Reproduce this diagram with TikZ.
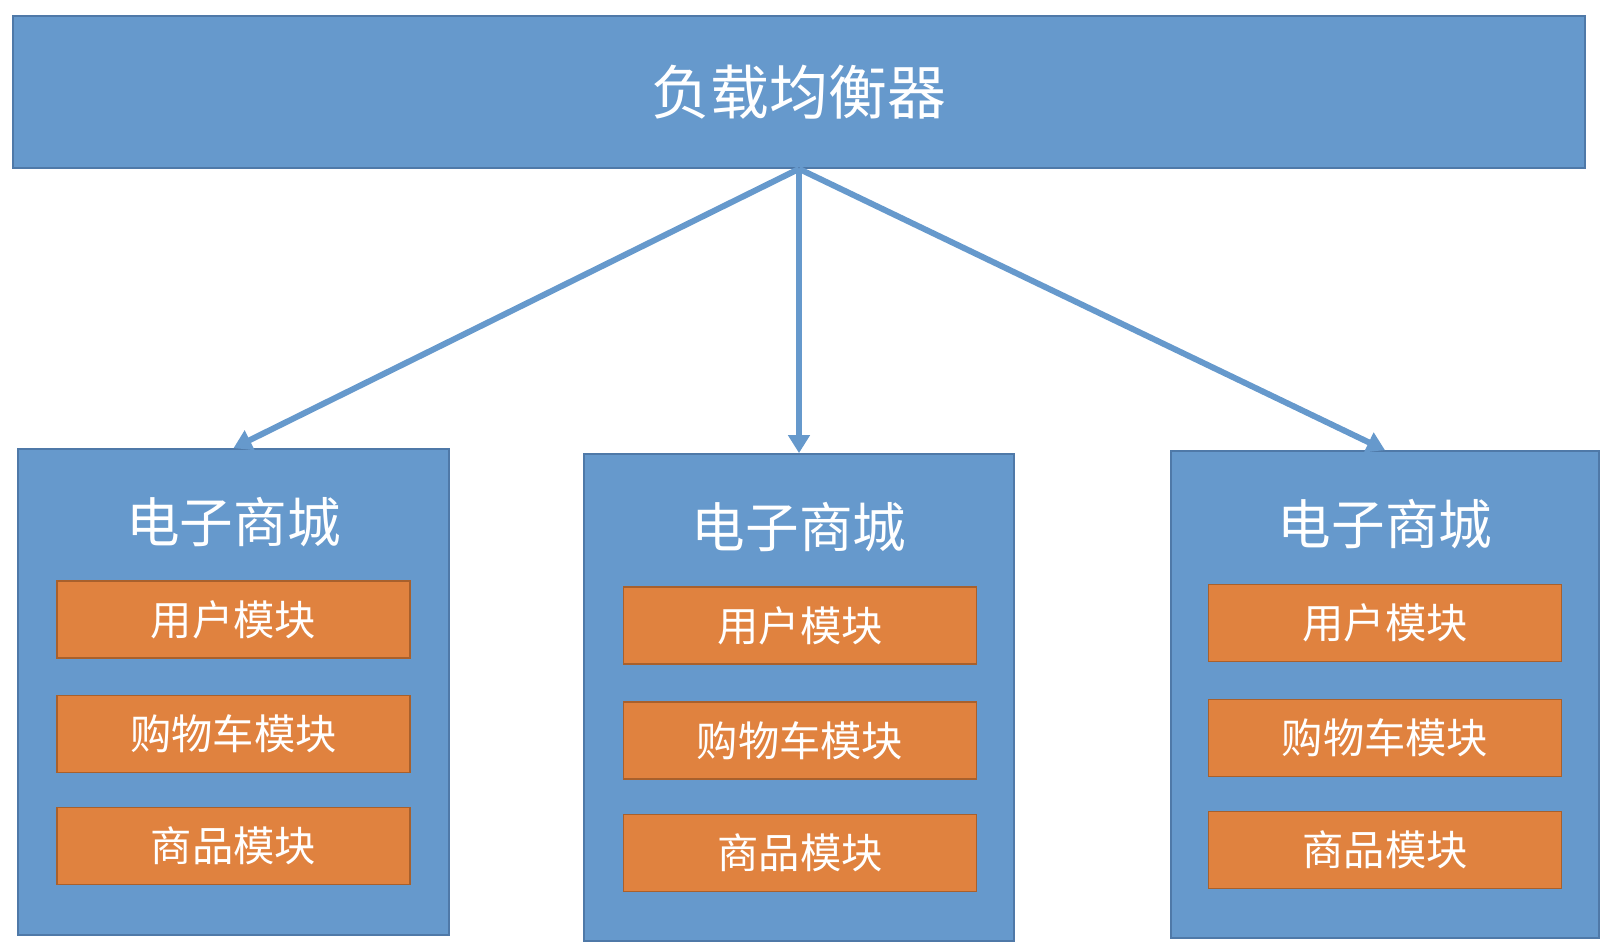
\documentclass[tikz,border=0pt]{standalone}
\usepackage{fontspec}
\newfontfamily\cjk{Noto Sans CJK SC}
\usetikzlibrary{arrows.meta}
\definecolor{boxblue}{HTML}{6699CC}
\definecolor{boxedge}{HTML}{4F79A8}
\definecolor{modorange}{HTML}{E0823F}
\definecolor{modedge}{HTML}{A8602C}
\begin{document}
\begin{tikzpicture}[
    blk/.style = {draw=boxedge, line width=1pt, fill=boxblue, inner sep=0pt},
    mod/.style = {draw=modedge, line width=1pt, fill=modorange, inner sep=0pt,
                  minimum width=7.06cm, minimum height=1.54cm,
                  text=white, font=\cjk\fontsize{23.5}{26}\selectfont},
    ttl/.style = {text=white, font=\cjk\fontsize{30.5}{34}\selectfont},
    arr/.style = {draw=boxblue, line width=3.4pt,
                  -{Triangle[length=0.36cm, width=0.42cm]}}
                    ]
\useasboundingbox (0,0) rectangle (32.08,-18.88);

\node[blk, minimum width=31.44cm, minimum height=3.04cm, text=white,
      font=\cjk\fontsize{33.5}{38}\selectfont] (lb) at (15.98,-1.84) {负载均衡器};

\node[blk, minimum width=8.62cm, minimum height=9.72cm] (s1) at (4.67,-13.84) {};
\node[blk, minimum width=8.60cm, minimum height=9.74cm] (s2) at (15.98,-13.95) {};
\node[blk, minimum width=8.56cm, minimum height=9.74cm] (s3) at (27.70,-13.89) {};

\node[ttl] (t1) at (4.67,-10.44) {电子商城};
\node[ttl] (t2) at (15.98,-10.54) {电子商城};
\node[ttl] (t3) at (27.70,-10.48) {电子商城};

\node[mod] (u1) at (4.67,-12.39) {用户模块};
\node[mod] (c1) at (4.67,-14.68) {购物车模块};
\node[mod] (g1) at (4.67,-16.92) {商品模块};

\node[mod] (u2) at (16.00,-12.51) {用户模块};
\node[mod] (c2) at (16.00,-14.81) {购物车模块};
\node[mod] (g2) at (16.00,-17.06) {商品模块};

\node[mod] (u3) at (27.70,-12.46) {用户模块};
\node[mod] (c3) at (27.70,-14.76) {购物车模块};
\node[mod] (g3) at (27.70,-17.00) {商品模块};

\path[arr] (lb.south) -- (s1.north);
\path[arr] (lb.south) -- (s2.north);
\path[arr] (lb.south) -- (s3.north);

\end{tikzpicture}
\end{document}
